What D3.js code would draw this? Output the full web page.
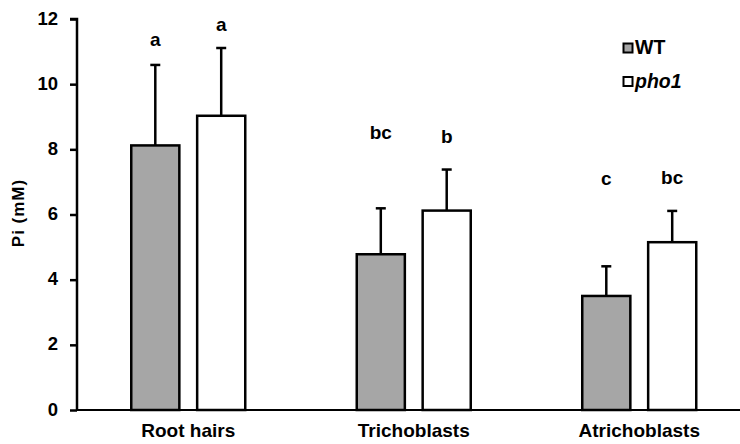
<!DOCTYPE html>
<html>
<head>
<meta charset="utf-8">
<script src="https://cdn.jsdelivr.net/npm/d3@7"></script>
<style>
  html, body { margin: 0; padding: 0; background: #fff; }
  svg text { font-family: Arial, "Liberation Sans", sans-serif; font-weight: bold; fill: #000; }
</style>
</head>
<body>
<svg id="chart" width="740" height="444"></svg>
<script>
// ---- data ----
const categories = ["Root hairs", "Trichoblasts", "Atrichoblasts"];
const series = ["WT", "pho1"];
const wtValues   = [8.12, 4.78, 3.50];
const pho1Values = [9.03, 6.12, 5.15];
const wtErrors   = [2.47, 1.41, 0.91];
const pho1Errors = [2.08, 1.26, 0.96];
const wtLetters   = ["a", "bc", "c"];
const pho1Letters = ["a", "b", "bc"];
const wtLetterY   = [11.16, 8.31, 6.91];
const pho1LetterY = [11.62, 8.20, 6.94];
const yTicks = [0, 2, 4, 6, 8, 10, 12];
const seriesFill = ["#a6a6a6", "#ffffff"];

const rows = [];
categories.forEach((c, i) => {
  rows.push({cat: c, s: "WT", v: wtValues[i], e: wtErrors[i], letter: wtLetters[i], ly: wtLetterY[i]});
  rows.push({cat: c, s: "pho1", v: pho1Values[i], e: pho1Errors[i], letter: pho1Letters[i], ly: pho1LetterY[i]});
});

const svg = d3.select("#chart");
const y = d3.scaleLinear().domain([0, 12]).range([410, 19]);
const x = d3.scaleBand().domain(categories).range([75.5, 752]).paddingInner(0).paddingOuter(0);
const xs = d3.scaleBand().domain(series).range([-58, 58]).paddingInner(0.24);
const color = d3.scaleOrdinal().domain(series).range(seriesFill);
const cx = d => x(d.cat) + x.bandwidth() / 2 + xs(d.s) + xs.bandwidth() / 2;

// error bars (behind bars)
const eb = svg.append("g").attr("stroke", "#000").attr("stroke-width", 2.5);
eb.selectAll("line.v").data(rows).join("line")
  .attr("x1", cx).attr("x2", cx)
  .attr("y1", d => y(d.v)).attr("y2", d => y(d.v + d.e));
eb.selectAll("line.c").data(rows).join("line")
  .attr("x1", d => cx(d) - 5).attr("x2", d => cx(d) + 5)
  .attr("y1", d => y(d.v + d.e)).attr("y2", d => y(d.v + d.e));

// bars
svg.append("g").selectAll("rect").data(rows).join("rect")
  .attr("x", d => x(d.cat) + x.bandwidth() / 2 + xs(d.s) + 1)
  .attr("width", xs.bandwidth() - 2)
  .attr("y", d => y(d.v))
  .attr("height", d => y(0) - y(d.v))
  .attr("fill", d => color(d.s))
  .attr("stroke", "#000").attr("stroke-width", 2.5);

// significance letters
svg.append("g").selectAll("text").data(rows).join("text")
  .attr("x", cx).attr("y", d => y(d.ly))
  .attr("text-anchor", "middle")
  .style("font-size", "19px")
  .text(d => d.letter);

// y axis
const yAxis = svg.append("g").attr("transform", "translate(77,0)")
  .call(d3.axisLeft(y).tickValues(yTicks).tickSize(7).tickPadding(12).tickFormat(d3.format("d")));
yAxis.select(".domain").attr("stroke", "#000").attr("stroke-width", 2.5).attr("d", `M-7,${y(12)}H0V${y(0)}`);
yAxis.selectAll(".tick line").attr("stroke", "#000").attr("stroke-width", 2.5);
yAxis.selectAll(".tick text").style("font-size", "18.5px").attr("dy", "0.27em")
  .style("font-family", "Arial, 'Liberation Sans', sans-serif").style("font-weight", "bold").attr("fill", "#000");

// x axis
const xAxis = svg.append("g").attr("transform", `translate(0,${y(0)})`)
  .call(d3.axisBottom(x).tickSize(0).tickPadding(14));
xAxis.select(".domain").attr("stroke", "#000").attr("stroke-width", 2).attr("d", `M76,0H740`);
xAxis.selectAll(".tick text").style("font-size", "19px").attr("dy", "0.71em")
  .style("font-family", "Arial, 'Liberation Sans', sans-serif").style("font-weight", "bold").attr("fill", "#000");

// y title
svg.append("text")
  .attr("transform", "translate(24,213) rotate(-90)")
  .attr("text-anchor", "middle")
  .style("font-size", "17px")
  .style("letter-spacing", "1px")
  .text("Pi (mM)");

// legend
const legendY = [48, 81.5];
const lg = svg.append("g");
series.forEach((s, i) => {
  lg.append("rect").attr("x", 623.5).attr("y", legendY[i] - 4.5).attr("width", 9).attr("height", 9)
    .attr("fill", color(s)).attr("stroke", "#000").attr("stroke-width", 2);
  lg.append("text").attr("x", 635).attr("y", legendY[i] + 6)
    .style("font-size", "19.5px")
    .style("font-style", s === "pho1" ? "italic" : "normal")
    .text(s);
});
</script>
</body>
</html>
